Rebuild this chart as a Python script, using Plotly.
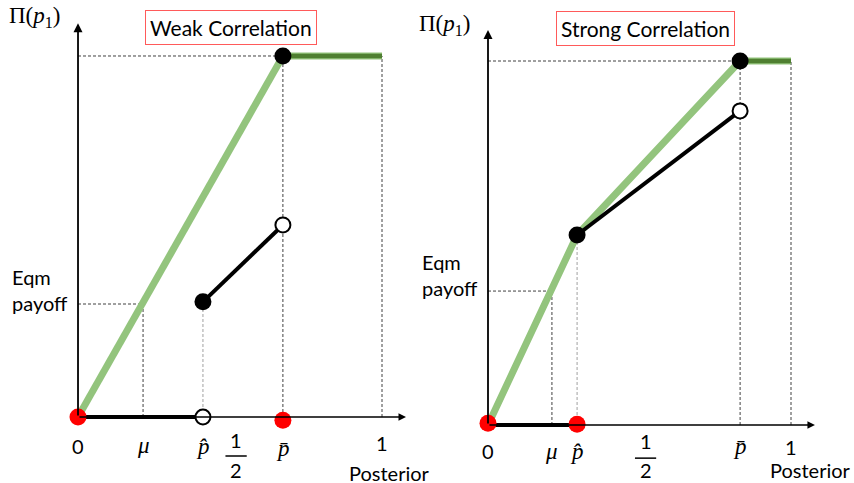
import plotly.graph_objects as go

# ---------------- data (posterior on x, payoff on y; top payoff = 1) ----------------
tick_names = ["0", "μ", "p̂", "½", "p̄", "1"]

# Weak correlation panel
weak_mu, weak_phat, weak_half, weak_pbar = 0.214, 0.411, 0.52, 0.674
weak_green_x = [0, weak_pbar]
weak_green_y = [0, 1.0]
weak_flat_x = [weak_pbar, 1.0]
weak_flat_y = [1.0, 1.0]
weak_black_x = [weak_phat, weak_pbar]
weak_black_y = [0.319, 0.532]
weak_base_x = [0, weak_phat]
weak_base_y = [0, 0]
weak_eqm = 0.313
weak_red_x = [0, weak_pbar]
weak_red_y = [0, -0.009]

# Strong correlation panel
strong_mu, strong_phat, strong_half, strong_pbar = 0.211, 0.294, 0.52, 0.832
strong_green_x = [0, strong_phat, strong_pbar]
strong_green_y = [0, 0.522, 1.0]
strong_flat_x = [strong_pbar, 1.0]
strong_flat_y = [1.0, 1.0]
strong_black_x = [strong_phat, strong_pbar]
strong_black_y = [0.522, 0.863]
strong_base_x = [0, strong_phat]
strong_base_y = [0, 0]
strong_eqm = 0.368
strong_red_x = [0, strong_phat]
strong_red_y = [0.005, 0.002]

# ---------------- styling ----------------
LIGHT_GREEN = "#93c47d"
DARK_GREEN = "#4f7f31"
RED = "#ff0000"
DASH = "3px,2px"
TXT = "Lato"
MATH = "Liberation Serif"

fig = go.Figure()

panels = [
    dict(xa="x", ya="y", mu=weak_mu, phat=weak_phat, half=weak_half, pbar=weak_pbar,
         gx=weak_green_x, gy=weak_green_y, fx=weak_flat_x, fy=weak_flat_y,
         bx=weak_black_x, by=weak_black_y, zx=weak_base_x, zy=weak_base_y,
         eqm=weak_eqm, rx=weak_red_x, ry=weak_red_y,
         xend=1.079, yend=1.091, title="Weak Correlation", title_xy=(0.502, 1.080),
         pi_xy=(-0.141, 1.108), eqm_xy=(-0.025, 0.352), post_xy=(0.885, -0.155),
         lab_y=dict(zero=-0.080, mu=-0.080, phat=-0.083, num=-0.064, bar=-0.108, den=-0.147,
                    pbar=-0.086, one=-0.072),
         open_base=True),
    dict(xa="x2", ya="y2", mu=strong_mu, phat=strong_phat, half=strong_half, pbar=strong_pbar,
         gx=strong_green_x, gy=strong_green_y, fx=strong_flat_x, fy=strong_flat_y,
         bx=strong_black_x, by=strong_black_y, zx=strong_base_x, zy=strong_base_y,
         eqm=strong_eqm, rx=strong_red_x, ry=strong_red_y,
         xend=1.079, yend=1.085, title="Strong Correlation", title_xy=(0.521, 1.088),
         pi_xy=(-0.142, 1.099), eqm_xy=(-0.026, 0.412), post_xy=(0.924, -0.124),
         lab_y=dict(zero=-0.071, mu=-0.073, phat=-0.073, num=-0.044, bar=-0.091, den=-0.124,
                    pbar=-0.058, one=-0.060),
         open_base=False),
]

annotations = []
shapes = []

for p in panels:
    xa, ya = p["xa"], p["ya"]
    xr = "x" if xa == "x" else "x2"
    yr = "y" if ya == "y" else "y2"

    def line(x, y, color, width, dash=None):
        fig.add_trace(go.Scatter(x=x, y=y, mode="lines", xaxis=xa, yaxis=ya,
                                 line=dict(color=color, width=width, dash=dash),
                                 hoverinfo="skip", showlegend=False))

    # dashed guide lines
    line([0, p["pbar"]], [1, 1], "#404040", 1, DASH)
    line([p["pbar"], p["pbar"]], [0, 1], "#404040", 1, DASH)
    line([1, 1], [0, 1], "#404040", 1, DASH)
    line([0, p["mu"]], [p["eqm"], p["eqm"]], "#404040", 1, DASH)
    line([p["mu"], p["mu"]], [0, p["eqm"]], "#404040", 1, DASH)
    line([p["phat"], p["phat"]], [0, p["by"][0]], "#a0a0a0", 1, DASH)

    # axes (drawn as arrows)
    annotations.append(dict(xref=xr, yref=yr, axref=xr, ayref=yr, x=p["xend"], y=0, ax=0, ay=0,
                            text="", showarrow=True, arrowhead=2, arrowsize=1, arrowwidth=1.5,
                            arrowcolor="black"))
    annotations.append(dict(xref=xr, yref=yr, axref=xr, ayref=yr, x=0, y=p["yend"], ax=0, ay=0,
                            text="", showarrow=True, arrowhead=2, arrowsize=1, arrowwidth=1.8,
                            arrowcolor="black"))

    # green value function
    line(p["gx"], p["gy"], LIGHT_GREEN, 7)
    line(p["fx"], p["fy"], LIGHT_GREEN, 7)
    line(p["fx"], p["fy"], DARK_GREEN, 4.5)

    # black segments
    line(p["zx"], p["zy"], "black", 4)
    line(p["bx"], p["by"], "black", 4)

    # markers
    fig.add_trace(go.Scatter(x=[p["pbar"], p["bx"][0]], y=[1, p["by"][0]], mode="markers",
                             xaxis=xa, yaxis=ya, hoverinfo="skip", showlegend=False,
                             marker=dict(color="black", size=17)))
    open_x = [p["bx"][1]] + ([p["phat"]] if p["open_base"] else [])
    open_y = [p["by"][1]] + ([0] if p["open_base"] else [])
    fig.add_trace(go.Scatter(x=open_x, y=open_y, mode="markers", xaxis=xa, yaxis=ya,
                             hoverinfo="skip", showlegend=False,
                             marker=dict(color="white", size=15, line=dict(color="black", width=2))))
    fig.add_trace(go.Scatter(x=p["rx"], y=p["ry"], mode="markers", xaxis=xa, yaxis=ya,
                             hoverinfo="skip", showlegend=False,
                             marker=dict(color=RED, size=17)))

    # texts
    ly = p["lab_y"]
    mfont = dict(family=MATH, size=23, color="black")
    tfont = dict(family=TXT, size=20, color="black")

    def txt(x, y, s, font, xanchor="center", align="center"):
        annotations.append(dict(xref=xr, yref=yr, x=x, y=y, text=s, showarrow=False,
                                font=font, xanchor=xanchor, yanchor="middle", align=align))

    txt(0, ly["zero"], tick_names[0], tfont)
    txt(p["mu"], ly["mu"], "<i>" + tick_names[1] + "</i>", mfont)
    txt(p["phat"], ly["phat"], "<i>" + tick_names[2] + "</i>", mfont)
    txt(p["half"], ly["num"], "1", tfont)
    txt(p["half"], ly["den"], "2", tfont)
    shapes.append(dict(type="line", xref=xr, yref=yr, x0=p["half"] - 0.035, x1=p["half"] + 0.035,
                       y0=ly["bar"], y1=ly["bar"], line=dict(color="black", width=1.5)))
    txt(p["pbar"], ly["pbar"], "<i>" + tick_names[4] + "</i>", mfont)
    txt(1, ly["one"], tick_names[5], tfont)
    txt(p["post_xy"][0], p["post_xy"][1], "Posterior", dict(family=TXT, size=20, color="black"),
        xanchor="left")
    txt(p["eqm_xy"][0], p["eqm_xy"][1], "Eqm<br>payoff", dict(family=TXT, size=20, color="black"),
        xanchor="right", align="left")
    txt(p["pi_xy"][0], p["pi_xy"][1], "Π(<i>p</i><sub>1</sub>)", dict(family=MATH, size=23, color="black"))
    annotations.append(dict(xref=xr, yref=yr, x=p["title_xy"][0], y=p["title_xy"][1],
                            text=p["title"], showarrow=False,
                            font=dict(family=TXT, size=21, color="black"),
                            bordercolor="#ff5a5a", borderwidth=1, borderpad=4,
                            bgcolor="white", xanchor="center", yanchor="middle"))

hidden = dict(visible=False, showgrid=False, zeroline=False, fixedrange=True)
fig.update_layout(
    width=854, height=483,
    margin=dict(l=0, r=0, t=0, b=0),
    paper_bgcolor="white", plot_bgcolor="white",
    showlegend=False,
    xaxis=dict(domain=[0, 0.5], range=[-0.2566, 1.148], **hidden),
    yaxis=dict(domain=[0, 1], range=[-0.1828, 1.1551], **hidden),
    xaxis2=dict(domain=[0.5, 1], range=[-0.2013, 1.2079], **hidden),
    yaxis2=dict(domain=[0, 1], range=[-0.1593, 1.1676], anchor="x2", **hidden),
    annotations=annotations,
    shapes=shapes,
)
fig.update_traces(cliponaxis=False)

fig.write_html("out.html",
               config={"displayModeBar": False, "staticPlot": True},
               post_script="document.body.style.margin='0';document.body.style.overflow='hidden';")
